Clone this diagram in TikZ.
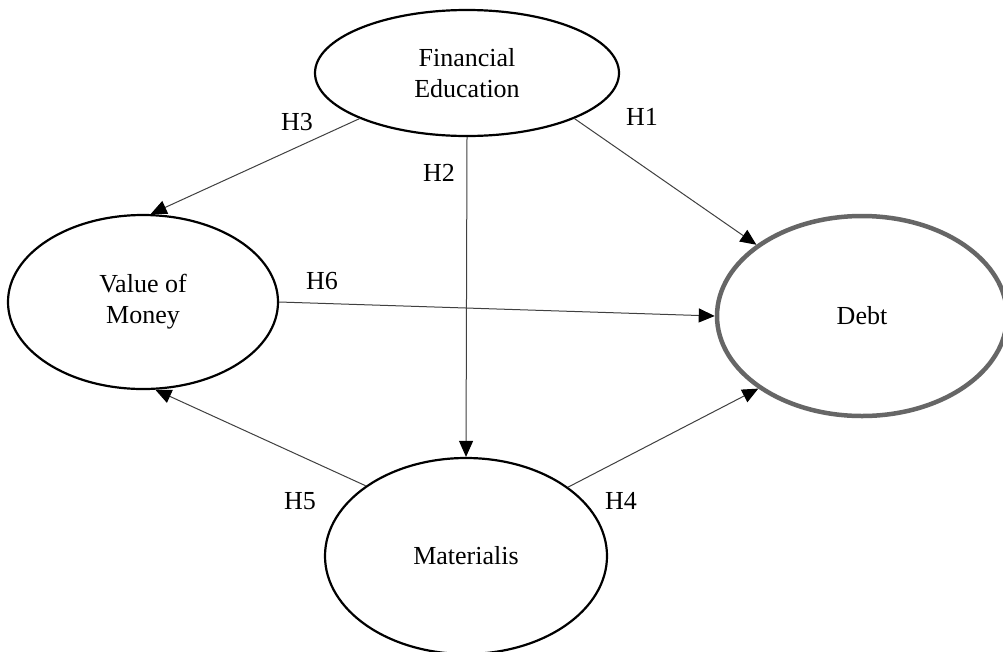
\documentclass[tikz,border=0pt]{standalone}
\usepackage{fontspec}
\setmainfont{Liberation Serif}
\usetikzlibrary{shapes.geometric,arrows.meta}
\begin{document}
\begin{tikzpicture}[x=1pt,y=-1pt,
  construct/.style={ellipse,draw=black,line width=2.2pt,inner sep=0pt,align=center,
    font=\fontsize{26}{31}\selectfont,fill=white},
  dependent/.style={construct,draw=black!60,line width=4.5pt},
  path/.style={draw=black!75,line width=1pt,-{Triangle[length=16pt,width=14pt,color=black]}},
  hlabel/.style={font=\fontsize{26}{31}\selectfont,inner sep=0pt}]
\fill[white] (0,0) rectangle (1003,651);
\useasboundingbox (0,0) rectangle (1003,651);
\clip (0,0) rectangle (1003,651);
\node[construct,minimum width=304pt,minimum height=126pt] (fe) at (467,73) {Financial\\Education};
\node[construct,minimum width=270pt,minimum height=174pt] (vom) at (143,302) {Value of\\Money};
\node[dependent,minimum width=290pt,minimum height=200pt] (debt) at (862,316) {Debt};
\node[construct,minimum width=282pt,minimum height=196pt] (mat) at (466,556) {Materialis};
\draw[path] (fe.203) -- (vom.85);
\draw[path] (fe.337) -- (debt.146);
\draw[path] (fe.270) -- (mat.90);
\draw[path] (vom.0) -- (debt.180);
\draw[path] (mat.145) -- (vom.278);
\draw[path] (mat.34) -- (debt.215);
\node[hlabel] (h1) at (642,117) {H1};
\node[hlabel] (h2) at (439,173) {H2};
\node[hlabel] (h3) at (297,122) {H3};
\node[hlabel] (h4) at (621,501) {H4};
\node[hlabel] (h5) at (300,501) {H5};
\node[hlabel] (h6) at (322,281) {H6};
\end{tikzpicture}
\end{document}
